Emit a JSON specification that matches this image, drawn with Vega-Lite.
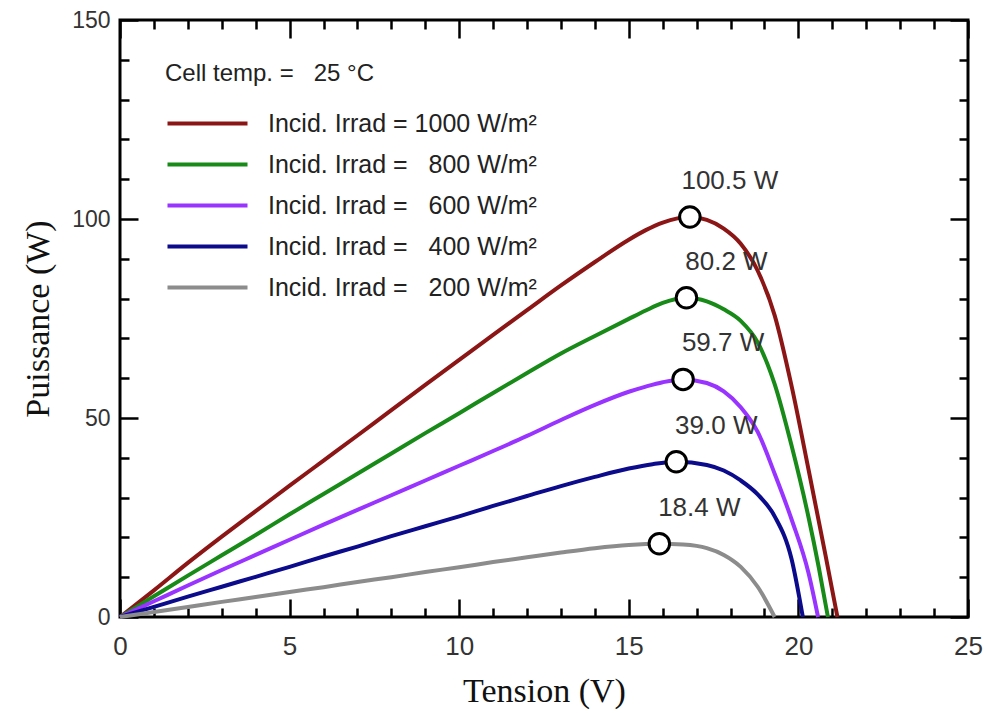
{
  "$schema": "https://vega.github.io/schema/vega-lite/v6.json",
  "width": 848,
  "height": 597,
  "autosize": {"type": "none"},
  "padding": {"left": 120, "top": 20, "right": 20, "bottom": 96},
  "background": "white",
  "config": {
    "view": {"stroke": "black", "strokeWidth": 3},
    "axis": {
      "domain": false,
      "grid": false,
      "tickColor": "black",
      "tickWidth": 2.5,
      "labelColor": "#333",
      "labelFont": "Liberation Sans",
      "labelOverlap": false,
      "labelFlush": false,
      "titleFont": "Liberation Serif",
      "titleFontSize": 34,
      "titleFontWeight": "normal",
      "titleColor": "#111"
    }
  },
  "datasets": {
    "curves": [
      {"irr":1000,"V":0,"P":0},{"irr":1000,"V":1,"P":6.7},{"irr":1000,"V":2,"P":13.6},{"irr":1000,"V":3,"P":20.2},{"irr":1000,"V":4,"P":26.6},{"irr":1000,"V":5,"P":33.0},{"irr":1000,"V":6,"P":39.3},{"irr":1000,"V":7,"P":45.6},{"irr":1000,"V":8,"P":52.0},{"irr":1000,"V":9,"P":58.3},{"irr":1000,"V":10,"P":64.6},{"irr":1000,"V":11,"P":70.9},{"irr":1000,"V":12,"P":77.1},{"irr":1000,"V":13,"P":83.3},{"irr":1000,"V":14,"P":89.2},{"irr":1000,"V":15,"P":94.8},{"irr":1000,"V":15.5,"P":97.2},{"irr":1000,"V":16,"P":99.1},{"irr":1000,"V":16.8,"P":100.5},{"irr":1000,"V":17.3,"P":99.8},{"irr":1000,"V":17.8,"P":97.6},{"irr":1000,"V":18.3,"P":93.8},{"irr":1000,"V":18.8,"P":87.0},{"irr":1000,"V":19.3,"P":75.8},{"irr":1000,"V":19.8,"P":58.0},{"irr":1000,"V":20.3,"P":37.0},{"irr":1000,"V":20.8,"P":15.5},{"irr":1000,"V":21.15,"P":0},
      {"irr":800,"V":0,"P":0},{"irr":800,"V":1,"P":5.2},{"irr":800,"V":2,"P":10.4},{"irr":800,"V":3,"P":15.5},{"irr":800,"V":4,"P":20.6},{"irr":800,"V":5,"P":25.8},{"irr":800,"V":6,"P":30.9},{"irr":800,"V":7,"P":36.0},{"irr":800,"V":8,"P":41.1},{"irr":800,"V":9,"P":46.2},{"irr":800,"V":10,"P":51.2},{"irr":800,"V":11,"P":56.3},{"irr":800,"V":12,"P":61.3},{"irr":800,"V":13,"P":66.2},{"irr":800,"V":14,"P":70.6},{"irr":800,"V":15,"P":74.9},{"irr":800,"V":15.5,"P":77.0},{"irr":800,"V":16,"P":78.9},{"irr":800,"V":16.7,"P":80.2},{"irr":800,"V":17.3,"P":79.3},{"irr":800,"V":17.8,"P":77.3},{"irr":800,"V":18.3,"P":74.4},{"irr":800,"V":18.8,"P":69.0},{"irr":800,"V":19.3,"P":58.5},{"irr":800,"V":19.8,"P":43.0},{"irr":800,"V":20.3,"P":25.0},{"irr":800,"V":20.6,"P":12.5},{"irr":800,"V":20.87,"P":0},
      {"irr":600,"V":0,"P":0},{"irr":600,"V":1,"P":3.95},{"irr":600,"V":2,"P":7.9},{"irr":600,"V":3,"P":11.8},{"irr":600,"V":4,"P":15.6},{"irr":600,"V":5,"P":19.4},{"irr":600,"V":6,"P":23.2},{"irr":600,"V":7,"P":26.9},{"irr":600,"V":8,"P":30.6},{"irr":600,"V":9,"P":34.3},{"irr":600,"V":10,"P":38.0},{"irr":600,"V":11,"P":41.7},{"irr":600,"V":12,"P":45.5},{"irr":600,"V":13,"P":49.5},{"irr":600,"V":14,"P":53.3},{"irr":600,"V":15,"P":56.6},{"irr":600,"V":15.5,"P":57.9},{"irr":600,"V":16,"P":59.0},{"irr":600,"V":16.6,"P":59.7},{"irr":600,"V":17.3,"P":58.8},{"irr":600,"V":17.8,"P":56.7},{"irr":600,"V":18.3,"P":52.7},{"irr":600,"V":18.8,"P":46.5},{"irr":600,"V":19.3,"P":36.0},{"irr":600,"V":19.8,"P":24.5},{"irr":600,"V":20.3,"P":11.0},{"irr":600,"V":20.58,"P":0},
      {"irr":400,"V":0,"P":0},{"irr":400,"V":1,"P":2.55},{"irr":400,"V":2,"P":5.1},{"irr":400,"V":3,"P":7.6},{"irr":400,"V":4,"P":10.1},{"irr":400,"V":5,"P":12.6},{"irr":400,"V":6,"P":15.2},{"irr":400,"V":7,"P":17.7},{"irr":400,"V":8,"P":20.3},{"irr":400,"V":9,"P":22.8},{"irr":400,"V":10,"P":25.3},{"irr":400,"V":11,"P":27.9},{"irr":400,"V":12,"P":30.4},{"irr":400,"V":13,"P":32.9},{"irr":400,"V":14,"P":35.2},{"irr":400,"V":15,"P":37.3},{"irr":400,"V":15.7,"P":38.4},{"irr":400,"V":16.4,"P":39.0},{"irr":400,"V":17.3,"P":38.2},{"irr":400,"V":17.8,"P":36.8},{"irr":400,"V":18.3,"P":34.3},{"irr":400,"V":18.8,"P":30.8},{"irr":400,"V":19.3,"P":25.3},{"irr":400,"V":19.8,"P":14.5},{"irr":400,"V":20.13,"P":0},
      {"irr":200,"V":0,"P":0},{"irr":200,"V":1,"P":1.25},{"irr":200,"V":2,"P":2.5},{"irr":200,"V":3,"P":3.8},{"irr":200,"V":4,"P":5.0},{"irr":200,"V":5,"P":6.3},{"irr":200,"V":6,"P":7.5},{"irr":200,"V":7,"P":8.8},{"irr":200,"V":8,"P":10.0},{"irr":200,"V":9,"P":11.3},{"irr":200,"V":10,"P":12.5},{"irr":200,"V":11,"P":13.8},{"irr":200,"V":12,"P":15.0},{"irr":200,"V":13,"P":16.2},{"irr":200,"V":14,"P":17.3},{"irr":200,"V":15,"P":18.1},{"irr":200,"V":15.9,"P":18.4},{"irr":200,"V":16.6,"P":18.2},{"irr":200,"V":17.3,"P":17.3},{"irr":200,"V":17.8,"P":15.6},{"irr":200,"V":18.3,"P":12.6},{"irr":200,"V":18.8,"P":7.6},{"irr":200,"V":19.3,"P":0}
    ],
    "mpp": [
      {"irr":1000,"V":16.8,"P":100.5,"label":"100.5 W"},
      {"irr":800,"V":16.7,"P":80.2,"label":"80.2 W"},
      {"irr":600,"V":16.6,"P":59.7,"label":"59.7 W"},
      {"irr":400,"V":16.4,"P":39.0,"label":"39.0 W"},
      {"irr":200,"V":15.9,"P":18.4,"label":"18.4 W"}
    ]
  },
  "layer": [
    {
      "data": {"name": "curves"},
      "mark": {"type": "line", "strokeWidth": 4, "interpolate": "monotone"},
      "encoding": {
        "x": {
          "field": "V", "type": "quantitative",
          "scale": {"domain": [0, 25], "nice": false, "zero": false},
          "axis": {
            "orient": "bottom",
            "title": "Tension (V)",
            "values": [0, 5, 10, 15, 20, 25],
            "tickSize": -18,
            "labelFontSize": 26,
            "labelPadding": 34,
            "titlePadding": 15
          }
        },
        "y": {
          "field": "P", "type": "quantitative",
          "scale": {"domain": [0, 150], "nice": false},
          "axis": {
            "orient": "left",
            "title": "Puissance (W)",
            "values": [0, 50, 100, 150],
            "tickSize": -18,
            "labelFontSize": 23,
            "labelPadding": 28,
            "titlePadding": 16
          }
        },
        "color": {
          "field": "irr", "type": "nominal",
          "scale": {"domain": [1000, 800, 600, 400, 200], "range": ["#8c1616", "#178a17", "#9933ff", "#0b0b8b", "#8c8c8c"]},
          "legend": {
            "orient": "none",
            "legendX": 45,
            "legendY": 42,
            "padding": 0,
            "title": "Cell temp. =\u00a0\u00a0\u00a025 °C",
            "titleFont": "Liberation Sans",
            "titleFontSize": 24,
            "titleFontWeight": "normal",
            "titleColor": "#222",
            "titleLimit": 500,
            "titlePadding": 25,
            "labelFont": "Liberation Sans",
            "labelFontSize": 25,
            "labelColor": "#222",
            "labelLimit": 500,
            "labelOffset": 78,
            "labelExpr": "'Incid. Irrad = ' + (datum.value >= 1000 ? '' : '\u00a0\u00a0') + datum.label + ' W/m²'",
            "symbolType": "M-1,0H7",
            "symbolSize": 400,
            "symbolStrokeWidth": 4,
            "rowPadding": 15
          }
        }
      }
    },
    {
      "data": {"name": "mpp"},
      "mark": {"type": "point", "shape": "circle", "size": 420, "filled": true, "fill": "white", "strokeWidth": 0, "opacity": 1},
      "encoding": {
        "x": {
          "field": "V", "type": "quantitative",
          "axis": {"orient": "top", "title": null, "labels": false, "values": [0, 5, 10, 15, 20, 25], "tickSize": -18}
        },
        "y": {
          "field": "P", "type": "quantitative",
          "axis": {"orient": "right", "title": null, "labels": false, "values": [0, 50, 100, 150], "tickSize": -18}
        }
      }
    },
    {
      "data": {"name": "mpp"},
      "mark": {"type": "point", "shape": "circle", "size": 420, "filled": false, "stroke": "black", "strokeWidth": 3, "opacity": 1},
      "encoding": {
        "x": {
          "field": "V", "type": "quantitative",
          "axis": {"orient": "bottom", "title": null, "labels": false, "values": [1,2,3,4,6,7,8,9,11,12,13,14,16,17,18,19,21,22,23,24], "tickSize": -9}
        },
        "y": {
          "field": "P", "type": "quantitative",
          "axis": {"orient": "left", "title": null, "labels": false, "values": [10,20,30,40,60,70,80,90,110,120,130,140], "tickSize": -9}
        }
      }
    },
    {
      "data": {"name": "mpp"},
      "mark": {"type": "text", "dx": 40, "dy": -36, "font": "Liberation Sans", "fontSize": 26, "fill": "#333", "align": "center", "baseline": "middle"},
      "encoding": {
        "x": {
          "field": "V", "type": "quantitative",
          "axis": {"orient": "top", "title": null, "labels": false, "values": [1,2,3,4,6,7,8,9,11,12,13,14,16,17,18,19,21,22,23,24], "tickSize": -9}
        },
        "y": {
          "field": "P", "type": "quantitative",
          "axis": {"orient": "right", "title": null, "labels": false, "values": [10,20,30,40,60,70,80,90,110,120,130,140], "tickSize": -9}
        },
        "text": {"field": "label"}
      }
    }
  ],
  "resolve": {"axis": {"x": "independent", "y": "independent"}}
}
